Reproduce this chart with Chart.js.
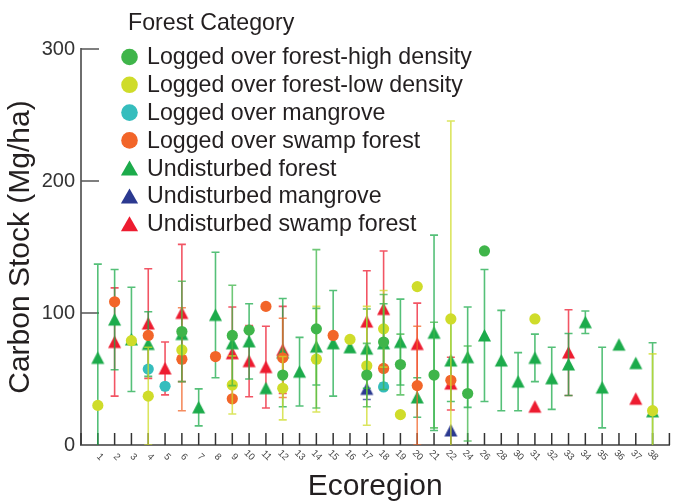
<!DOCTYPE html>
<html>
<head>
<meta charset="utf-8">
<script src="https://cdn.jsdelivr.net/npm/chart.js@4"></script>
<style>
  html, body { margin: 0; padding: 0; background: #fff; }
  #wrap { width: 675px; height: 502px; }
</style>
</head>
<body>
<div id="wrap"><canvas id="stock"></canvas></div>
<script>
// ecoregions sampled (23, 25, 27, 29 have no plots)
var ecoregions = [1,2,3,4,5,6,7,8,9,10,11,12,13,14,15,16,17,18,19,20,21,22,24,26,28,30,31,32,33,34,35,36,37,38];
var yTicks = [0, 100, 200, 300];

// mean carbon stock and +/- error per forest category
var highEco  = [6, 9, 10, 12, 14, 17, 18, 19, 21, 24, 26];
var highMean = [86, 83, 87, 53, 88, 53, 78, 61, 53, 39, 147];
var highErr  = [38, 38, 0, 0, 60, 24, 36, 23, 40, 36, 0];

var lowEco  = [1, 3, 4, 6, 9, 12, 14, 16, 17, 18, 19, 20, 22, 31, 38];
var lowMean = [30, 79, 37, 72, 45.5, 43, 65, 80, 60, 88, 23, 120, 95.5, 95.5, 26];
var lowErr  = [0, 0, 37, 0, 22, 24, 40, 0, 45, 29, 0, 0, 150, 0, 43];

var mangEco  = [4, 5, 18];
var mangMean = [57.5, 44.5, 44];
var mangErr  = [0, 0, 0];

var swampEco  = [2, 4, 6, 8, 9, 11, 12, 15, 18, 20, 22];
var swampMean = [108.5, 83, 65, 67, 35, 105, 66, 83, 58, 45, 49];
var swampErr  = [0, 0, 39, 0, 0, 0, 30, 0, 0, 45, 0];

var undEco  = [1, 2, 3, 4, 6, 7, 8, 9, 10, 11, 12, 13, 14, 15, 16, 17, 18, 19, 20, 21, 22, 24, 26, 28, 30, 31, 32, 33, 34, 35, 36, 37, 38];
var undMean = [66, 95, 80, 76.5, 84, 28.5, 98.5, 77, 78.5, 43, 70, 55.5, 74.5, 77, 74, 73, 77, 78, 36, 85, 64, 66.5, 83, 64, 48, 66, 50.5, 61, 93, 43.5, 76, 62, 25.5];
var undErr  = [71, 38, 39.5, 24.5, 0, 14, 47.5, 0, 28.5, 0, 41, 26, 29, 40, 0, 30, 30, 32.5, 15, 74, 31, 38, 50, 38, 22, 18, 23.5, 23.5, 8.5, 30.5, 0, 0, 52];

var undMangEco  = [17, 22];
var undMangMean = [42.5, 11];
var undMangErr  = [8, 0];

var undSwampEco  = [2, 4, 5, 6, 9, 10, 11, 12, 17, 18, 20, 22, 31, 33, 37];
var undSwampMean = [78, 92, 58, 100, 69.5, 63.5, 59, 72, 93.5, 103, 76.5, 46.5, 29, 70, 35];
var undSwampErr  = [41, 41.5, 20, 52, 35, 27, 31, 33, 38.5, 44, 31, 20, 0, 32.5, 0];

var FONT = 'Liberation Sans, Arial, Helvetica, sans-serif';
var INK = '#231f20';

// triangle marker centred on its bounding box
function triangleMark(color, w, h) {
  var c = document.createElement('canvas');
  c.width = Math.ceil(w) + 2;
  c.height = Math.ceil(h) + 2;
  var g = c.getContext('2d');
  g.fillStyle = color;
  g.beginPath();
  g.moveTo(c.width / 2, 1);
  g.lineTo(c.width / 2 + w / 2, 1 + h);
  g.lineTo(c.width / 2 - w / 2, 1 + h);
  g.closePath();
  g.fill();
  return c;
}

function series(label, eco, mean, err, color, shape) {
  return {
    label: label,
    shape: shape,
    color: color,
    errors: err,
    data: eco.map(function (e, i) {
      return { x: ecoregions.indexOf(e) + 1, y: mean[i] };
    }),
    backgroundColor: color,
    borderWidth: 0,
    pointStyle: shape === 'triangle' ? triangleMark(color, 13, 12.5) : 'circle',
    pointRadius: 5.6,
    pointHoverRadius: 5.6,
    showLine: false
  };
}

function fade(color, a) {
  var m = color.match(/\d+/g);
  return 'rgba(' + m[0] + ',' + m[1] + ',' + m[2] + ',' + a + ')';
}

// vertical bars with caps, drawn just under each dataset's own markers
var errorBars = {
  id: 'errorBars',
  beforeDatasetDraw: function (chart, args) {
    var ds = chart.data.datasets[args.index];
    var xs = chart.scales.x, ys = chart.scales.y, area = chart.chartArea;
    var ctx = chart.ctx;
    ctx.save();
    ctx.beginPath();
    ctx.rect(area.left, area.top, area.right - area.left, area.bottom - area.top);
    ctx.clip();
    ctx.strokeStyle = fade(ds.color, 0.75);
    ctx.lineWidth = 1.6;
    ds.data.forEach(function (p, i) {
      var e = ds.errors[i];
      if (!e) return;
      var x = xs.getPixelForValue(p.x);
      var top = ys.getPixelForValue(p.y + e);
      var bot = ys.getPixelForValue(p.y - e);
      ctx.beginPath();
      ctx.moveTo(x, top); ctx.lineTo(x, bot);
      ctx.moveTo(x - 4, top); ctx.lineTo(x + 4, top);
      ctx.moveTo(x - 4, bot); ctx.lineTo(x + 4, bot);
      ctx.stroke();
    });
    ctx.restore();
  }
};

// inward tick marks on both axes
var tickMarks = {
  id: 'tickMarks',
  beforeDatasetsDraw: function (chart) {
    var xs = chart.scales.x, ys = chart.scales.y, area = chart.chartArea;
    var ctx = chart.ctx;
    ctx.save();
    ctx.lineWidth = 1.5;
    ctx.strokeStyle = '#333';
    for (var i = 0; i <= ecoregions.length + 1; i++) {
      var x = xs.getPixelForValue(i);
      ctx.beginPath();
      ctx.moveTo(x, area.bottom);
      ctx.lineTo(x, area.bottom - 12);
      ctx.stroke();
    }
    ctx.strokeStyle = '#555';
    yTicks.forEach(function (v) {
      if (!v) return;
      var y = ys.getPixelForValue(v);
      ctx.beginPath();
      ctx.moveTo(area.left, y);
      ctx.lineTo(area.left + 18, y);
      ctx.stroke();
    });
    ctx.restore();
  }
};

// slanted ecoregion labels and the category key
var decorations = {
  id: 'decorations',
  afterDraw: function (chart) {
    var xs = chart.scales.x, area = chart.chartArea;
    var ctx = chart.ctx;
    ctx.save();
    ctx.fillStyle = '#444';
    ctx.font = '9.5px ' + FONT;
    ctx.textAlign = 'right';
    ctx.textBaseline = 'middle';
    ecoregions.forEach(function (e, i) {
      var x = xs.getPixelForValue(i + 1);
      ctx.save();
      ctx.translate(x + 4, area.bottom + 14);
      ctx.rotate(Math.PI / 4);
      ctx.fillText(String(e), 0, 0);
      ctx.restore();
    });

    ctx.fillStyle = INK;
    ctx.textAlign = 'left';
    ctx.font = '23.2px ' + FONT;
    ctx.fillText('Forest Category', 128, 24);
    chart.data.datasets.forEach(function (ds, i) {
      var y = 57 + i * 27.8;
      var mx = 129.5;
      ctx.fillStyle = ds.color;
      ctx.beginPath();
      if (ds.shape === 'triangle') {
        ctx.moveTo(mx, y - 7.6);
        ctx.lineTo(mx + 8.6, y + 7.4);
        ctx.lineTo(mx - 8.6, y + 7.4);
        ctx.closePath();
      } else {
        ctx.arc(mx, y, 8.3, 0, Math.PI * 2);
      }
      ctx.fill();
      ctx.fillStyle = INK;
      ctx.fillText(ds.label, 147, y + 1);
    });
    ctx.restore();
  }
};

Chart.defaults.font.family = FONT;

var ctx = document.getElementById('stock').getContext('2d');
window.stockChart = new Chart(ctx, {
  type: 'scatter',
  data: {
    datasets: [
      series('Logged over forest-high density', highEco, highMean, highErr, 'rgb(63,181,74)', 'circle'),
      series('Logged over forest-low density', lowEco, lowMean, lowErr, 'rgb(207,220,42)', 'circle'),
      series('Logged over mangrove', mangEco, mangMean, mangErr, 'rgb(53,189,189)', 'circle'),
      series('Logged over swamp forest', swampEco, swampMean, swampErr, 'rgb(242,101,41)', 'circle'),
      series('Undisturbed forest', undEco, undMean, undErr, 'rgb(28,171,75)', 'triangle'),
      series('Undisturbed mangrove', undMangEco, undMangMean, undMangErr, 'rgb(43,57,144)', 'triangle'),
      series('Undisturbed swamp forest', undSwampEco, undSwampMean, undSwampErr, 'rgb(237,28,48)', 'triangle')
    ]
  },
  options: {
    responsive: true,
    maintainAspectRatio: false,
    animation: false,
    devicePixelRatio: 1,
    layout: { padding: { top: 49, right: 1, left: 0, bottom: 0 } },
    plugins: {
      legend: { display: false },
      tooltip: { enabled: false }
    },
    scales: {
      x: {
        type: 'linear',
        min: 0,
        max: ecoregions.length + 1,
        afterFit: function (scale) { scale.height = 57; },
        ticks: { display: false },
        grid: { display: false, drawTicks: false },
        border: { display: true, color: '#6e6e6e', width: 2 },
        title: {
          display: true,
          text: 'Ecoregion',
          color: INK,
          font: { size: 30, lineHeight: 1 },
          padding: { top: 0, bottom: 0 }
        }
      },
      y: {
        min: 0,
        max: 300,
        afterFit: function (scale) { scale.width = 81; },
        afterBuildTicks: function (scale) {
          scale.ticks = yTicks.map(function (v) { return { value: v }; });
        },
        ticks: { color: '#333', font: { size: 20 }, padding: 6 },
        grid: { display: false, drawTicks: false },
        border: { display: true, color: '#6e6e6e', width: 2 },
        title: {
          display: true,
          text: 'Carbon Stock (Mg/ha)',
          color: INK,
          font: { size: 30, lineHeight: 1 },
          padding: { top: 6, bottom: 0 }
        }
      }
    }
  },
  plugins: [tickMarks, errorBars, decorations]
});
</script>
</body>
</html>
